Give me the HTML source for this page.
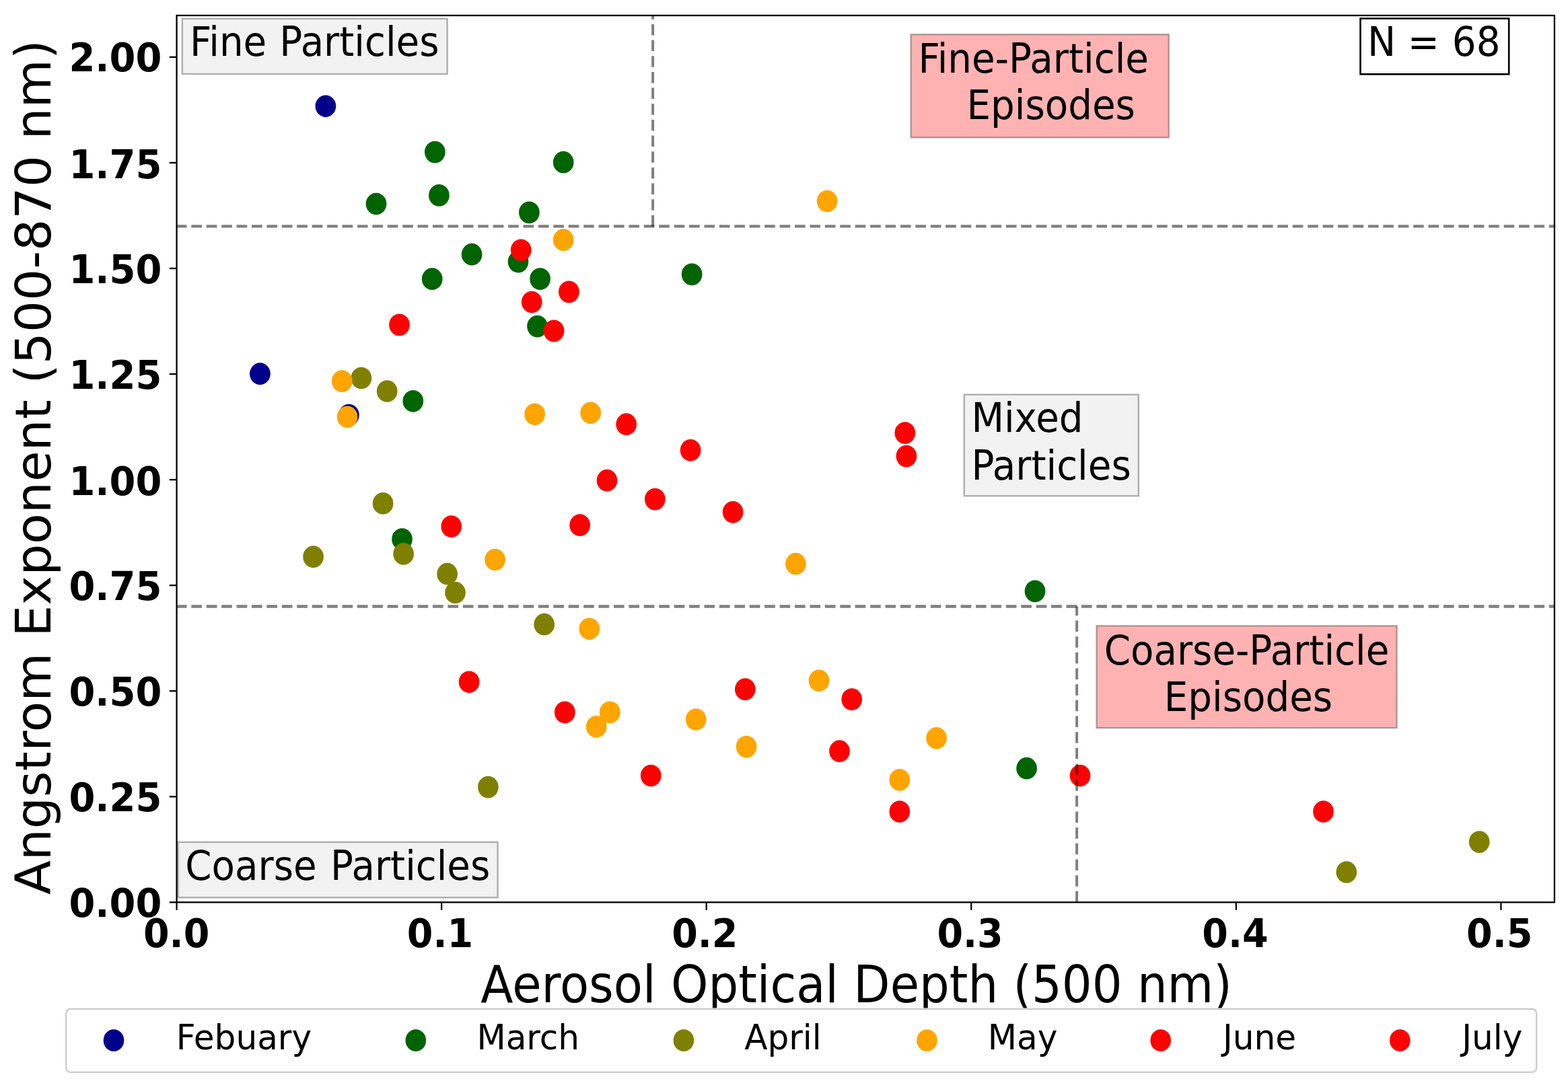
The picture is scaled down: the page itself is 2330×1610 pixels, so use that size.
<!DOCTYPE html>
<html lang="en">
<head>
<meta charset="utf-8">
<title>Angstrom Exponent vs Aerosol Optical Depth</title>
<style>
html,body{margin:0;padding:0;background:#fff;}
body{width:2330px;height:1610px;overflow:hidden;}
svg{display:block;}
svg text{font-family:'DejaVu Sans','Liberation Sans',sans-serif;fill:#000;white-space:pre;}
</style>
</head>
<body>
<svg xmlns="http://www.w3.org/2000/svg" width="2330" height="1610" viewBox="0 0 2330 1610">
<rect x="0" y="0" width="2330" height="1610" fill="#fff"/>
<g id="dots">
<g fill="#00008b">
<ellipse cx="483.9" cy="157.8" rx="15.35" ry="16.35"/>
<ellipse cx="386.4" cy="555.7" rx="15.35" ry="16.35"/>
<ellipse cx="518.4" cy="617.1" rx="15.35" ry="16.35"/>
</g>
<g fill="#006400">
<ellipse cx="646.3" cy="226.1" rx="15.35" ry="16.35"/>
<ellipse cx="837.2" cy="241.2" rx="15.35" ry="16.35"/>
<ellipse cx="559.0" cy="303.0" rx="15.35" ry="16.35"/>
<ellipse cx="652.4" cy="290.4" rx="15.35" ry="16.35"/>
<ellipse cx="786.4" cy="315.9" rx="15.35" ry="16.35"/>
<ellipse cx="701.1" cy="378.2" rx="15.35" ry="16.35"/>
<ellipse cx="770.0" cy="389.1" rx="15.35" ry="16.35"/>
<ellipse cx="642.2" cy="414.7" rx="15.35" ry="16.35"/>
<ellipse cx="802.6" cy="414.6" rx="15.35" ry="16.35"/>
<ellipse cx="798.5" cy="485.1" rx="15.35" ry="16.35"/>
<ellipse cx="1028.1" cy="407.9" rx="15.35" ry="16.35"/>
<ellipse cx="613.8" cy="596.3" rx="15.35" ry="16.35"/>
<ellipse cx="597.5" cy="801.5" rx="15.35" ry="16.35"/>
<ellipse cx="1538.0" cy="878.9" rx="15.35" ry="16.35"/>
<ellipse cx="1525.6" cy="1142.2" rx="15.35" ry="16.35"/>
</g>
<g fill="#808000">
<ellipse cx="536.9" cy="562.0" rx="15.35" ry="16.35"/>
<ellipse cx="575.2" cy="581.5" rx="15.35" ry="16.35"/>
<ellipse cx="569.1" cy="748.4" rx="15.35" ry="16.35"/>
<ellipse cx="465.6" cy="827.7" rx="15.35" ry="16.35"/>
<ellipse cx="599.6" cy="823.4" rx="15.35" ry="16.35"/>
<ellipse cx="664.6" cy="853.2" rx="15.35" ry="16.35"/>
<ellipse cx="676.5" cy="881.0" rx="15.35" ry="16.35"/>
<ellipse cx="808.7" cy="928.2" rx="15.35" ry="16.35"/>
<ellipse cx="725.4" cy="1170.1" rx="15.35" ry="16.35"/>
<ellipse cx="2000.8" cy="1296.5" rx="15.35" ry="16.35"/>
<ellipse cx="2198.2" cy="1251.6" rx="15.35" ry="16.35"/>
</g>
<g fill="#ffa500">
<ellipse cx="1229.1" cy="299.0" rx="15.35" ry="16.35"/>
<ellipse cx="837.2" cy="356.7" rx="15.35" ry="16.35"/>
<ellipse cx="508.2" cy="566.6" rx="15.35" ry="16.35"/>
<ellipse cx="516.1" cy="619.8" rx="15.35" ry="16.35"/>
<ellipse cx="794.6" cy="615.8" rx="15.35" ry="16.35"/>
<ellipse cx="877.7" cy="613.8" rx="15.35" ry="16.35"/>
<ellipse cx="735.6" cy="832.0" rx="15.35" ry="16.35"/>
<ellipse cx="1182.4" cy="838.2" rx="15.35" ry="16.35"/>
<ellipse cx="875.8" cy="934.8" rx="15.35" ry="16.35"/>
<ellipse cx="906.3" cy="1058.9" rx="15.35" ry="16.35"/>
<ellipse cx="886.2" cy="1080.3" rx="15.35" ry="16.35"/>
<ellipse cx="1034.2" cy="1069.5" rx="15.35" ry="16.35"/>
<ellipse cx="1109.1" cy="1110.1" rx="15.35" ry="16.35"/>
<ellipse cx="1217.0" cy="1011.8" rx="15.35" ry="16.35"/>
<ellipse cx="1391.6" cy="1097.3" rx="15.35" ry="16.35"/>
<ellipse cx="1336.8" cy="1159.4" rx="15.35" ry="16.35"/>
</g>
<g fill="#ff0000">
<ellipse cx="774.2" cy="371.8" rx="15.35" ry="16.35"/>
<ellipse cx="845.4" cy="433.9" rx="15.35" ry="16.35"/>
<ellipse cx="790.2" cy="449.0" rx="15.35" ry="16.35"/>
<ellipse cx="823.0" cy="491.9" rx="15.35" ry="16.35"/>
<ellipse cx="593.5" cy="482.9" rx="15.35" ry="16.35"/>
<ellipse cx="930.7" cy="630.7" rx="15.35" ry="16.35"/>
<ellipse cx="1026.1" cy="669.3" rx="15.35" ry="16.35"/>
<ellipse cx="902.0" cy="714.2" rx="15.35" ry="16.35"/>
<ellipse cx="973.3" cy="742.1" rx="15.35" ry="16.35"/>
<ellipse cx="1089.1" cy="761.3" rx="15.35" ry="16.35"/>
<ellipse cx="861.7" cy="780.7" rx="15.35" ry="16.35"/>
<ellipse cx="670.7" cy="782.6" rx="15.35" ry="16.35"/>
<ellipse cx="1344.8" cy="643.6" rx="15.35" ry="16.35"/>
<ellipse cx="1346.9" cy="678.1" rx="15.35" ry="16.35"/>
<ellipse cx="697.1" cy="1013.8" rx="15.35" ry="16.35"/>
<ellipse cx="839.3" cy="1058.9" rx="15.35" ry="16.35"/>
<ellipse cx="1107.3" cy="1024.6" rx="15.35" ry="16.35"/>
<ellipse cx="1265.7" cy="1039.6" rx="15.35" ry="16.35"/>
<ellipse cx="1247.5" cy="1116.7" rx="15.35" ry="16.35"/>
<ellipse cx="967.2" cy="1153.0" rx="15.35" ry="16.35"/>
<ellipse cx="1336.8" cy="1206.5" rx="15.35" ry="16.35"/>
<ellipse cx="1605.0" cy="1153.0" rx="15.35" ry="16.35"/>
<ellipse cx="1966.5" cy="1206.5" rx="15.35" ry="16.35"/>
</g>
</g>
<defs><clipPath id="axclip"><rect x="261.95" y="23.00" width="2047.95" height="1318.35"/></clipPath></defs>
<g stroke="#000" stroke-opacity="0.5" fill="none" clip-path="url(#axclip)">
<line x1="261.90" y1="336.44" x2="2309.90" y2="336.44" stroke-width="4.3" stroke-dasharray="15.65 6.767"/>
<line x1="261.90" y1="901.50" x2="2309.90" y2="901.50" stroke-width="4.3" stroke-dasharray="15.65 6.767"/>
<line x1="970.10" y1="336.44" x2="970.10" y2="23.00" stroke-width="3.95" stroke-dasharray="16.5 7.17"/>
<line x1="1600.10" y1="1341.35" x2="1600.10" y2="901.50" stroke-width="3.95" stroke-dasharray="16.5 7.17"/>
</g>
<rect x="262.55" y="23.0" width="2047.35" height="1318.35" fill="none" stroke="#000" stroke-width="2.3"/>
<g stroke="#000">
<line x1="262.55" y1="1341.35" x2="262.55" y2="1352.95" stroke-width="2.25"/>
<line x1="656.12" y1="1341.35" x2="656.12" y2="1352.95" stroke-width="2.25"/>
<line x1="1049.69" y1="1341.35" x2="1049.69" y2="1352.95" stroke-width="2.25"/>
<line x1="1443.26" y1="1341.35" x2="1443.26" y2="1352.95" stroke-width="2.25"/>
<line x1="1836.83" y1="1341.35" x2="1836.83" y2="1352.95" stroke-width="2.25"/>
<line x1="2230.40" y1="1341.35" x2="2230.40" y2="1352.95" stroke-width="2.25"/>
<line x1="251.75" y1="1341.35" x2="262.55" y2="1341.35" stroke-width="2.35"/>
<line x1="251.75" y1="1184.29" x2="262.55" y2="1184.29" stroke-width="2.35"/>
<line x1="251.75" y1="1027.24" x2="262.55" y2="1027.24" stroke-width="2.35"/>
<line x1="251.75" y1="870.18" x2="262.55" y2="870.18" stroke-width="2.35"/>
<line x1="251.75" y1="713.12" x2="262.55" y2="713.12" stroke-width="2.35"/>
<line x1="251.75" y1="556.07" x2="262.55" y2="556.07" stroke-width="2.35"/>
<line x1="251.75" y1="399.01" x2="262.55" y2="399.01" stroke-width="2.35"/>
<line x1="251.75" y1="241.96" x2="262.55" y2="241.96" stroke-width="2.35"/>
<line x1="251.75" y1="84.90" x2="262.55" y2="84.90" stroke-width="2.35"/>
</g>
<g id="ticklabels">
<text transform="translate(212.99 1408.00) scale(0.9455 1)" font-size="58.70" font-weight="bold">0.0</text>
<text transform="translate(604.86 1408.00) scale(0.9455 1)" font-size="58.70" font-weight="bold">0.1</text>
<text transform="translate(998.13 1408.00) scale(0.9455 1)" font-size="58.70" font-weight="bold">0.2</text>
<text transform="translate(1392.40 1408.00) scale(0.9455 1)" font-size="58.70" font-weight="bold">0.3</text>
<text transform="translate(1786.37 1408.00) scale(0.9455 1)" font-size="58.70" font-weight="bold">0.4</text>
<text transform="translate(2179.04 1408.00) scale(0.9455 1)" font-size="58.70" font-weight="bold">0.5</text>
<text transform="translate(102.38 1362.65) scale(0.9395 1)" font-size="59.50" font-weight="bold">0.00</text>
<text transform="translate(102.38 1205.59) scale(0.9395 1)" font-size="59.50" font-weight="bold">0.25</text>
<text transform="translate(102.38 1048.54) scale(0.9395 1)" font-size="59.50" font-weight="bold">0.50</text>
<text transform="translate(102.38 892.08) scale(0.9395 1)" font-size="59.50" font-weight="bold">0.75</text>
<text transform="translate(102.38 735.92) scale(0.9395 1)" font-size="59.50" font-weight="bold">1.00</text>
<text transform="translate(102.38 577.87) scale(0.9395 1)" font-size="59.50" font-weight="bold">1.25</text>
<text transform="translate(102.38 420.81) scale(0.9395 1)" font-size="59.50" font-weight="bold">1.50</text>
<text transform="translate(102.38 264.56) scale(0.9395 1)" font-size="59.50" font-weight="bold">1.75</text>
<text transform="translate(102.38 106.20) scale(0.9395 1)" font-size="59.50" font-weight="bold">2.00</text>
</g>
<rect x="270.80" y="27.80" width="393.80" height="82.20" fill="#d3d3d3" fill-opacity="0.3" stroke="#000" stroke-opacity="0.3" stroke-width="2.4"/>
<text transform="translate(0 83.30) scale(0.9260 1)" font-size="60.80" font-weight="normal"><tspan x="304.55">Fine </tspan><tspan x="448.40">Particles</tspan></text>
<rect x="264.60" y="1251.90" width="475.00" height="82.40" fill="#d3d3d3" fill-opacity="0.3" stroke="#000" stroke-opacity="0.3" stroke-width="2.4"/>
<text transform="translate(0 1307.90) scale(0.9260 1)" font-size="60.80" font-weight="normal"><tspan x="297.31">Coarse </tspan><tspan x="530.26">Particles</tspan></text>
<rect x="1353.50" y="51.20" width="383.30" height="153.20" fill="#ff0000" fill-opacity="0.3" stroke="#000" stroke-opacity="0.3" stroke-width="2.4"/>
<text transform="translate(0 108.30) scale(0.9260 1)" font-size="60.80" font-weight="normal"><tspan x="1473.47">Fine-Particle</tspan></text>
<text transform="translate(0 177.10) scale(0.9260 1)" font-size="60.80" font-weight="normal"><tspan x="1551.33">Episodes</tspan></text>
<rect x="1432.70" y="586.60" width="259.10" height="150.70" fill="#d3d3d3" fill-opacity="0.3" stroke="#000" stroke-opacity="0.3" stroke-width="2.4"/>
<text transform="translate(0 641.70) scale(0.9260 1)" font-size="60.80" font-weight="normal"><tspan x="1558.78">Mixed</tspan></text>
<text transform="translate(0 712.70) scale(0.9260 1)" font-size="60.80" font-weight="normal"><tspan x="1558.78">Particles</tspan></text>
<rect x="1629.50" y="930.40" width="446.10" height="151.70" fill="#ff0000" fill-opacity="0.3" stroke="#000" stroke-opacity="0.3" stroke-width="2.4"/>
<text transform="translate(0 988.20) scale(0.9260 1)" font-size="60.80" font-weight="normal"><tspan x="1771.84">Coarse-Particle</tspan></text>
<text transform="translate(0 1056.70) scale(0.9260 1)" font-size="60.80" font-weight="normal"><tspan x="1867.96">Episodes</tspan></text>
<rect x="2021.50" y="27.50" width="220.70" height="82.80" fill="#fff" stroke="#000" stroke-width="2.6" />
<text transform="translate(0 82.70) scale(0.9260 1)" font-size="60.80" font-weight="normal"><tspan x="2194.32">N </tspan><tspan x="2258.87">= </tspan><tspan x="2330.33">68</tspan></text>
<text transform="translate(714.17 1490.10) scale(0.9276 1)" font-size="76.00" font-weight="normal">Aerosol Optical Depth (500 nm)</text>
<text transform="translate(74.9 1330.06) rotate(-90) scale(1.0236 1)" font-size="72.60">Angstrom Exponent (500-870 nm)</text>
<rect x="0" y="1498.6" width="2330" height="111.4" fill="#fff"/>
<rect x="98.2" y="1500.0" width="2185.0" height="93.9" rx="6.5" ry="6.5" fill="#fff" stroke="#ccc" stroke-width="2.4"/>
<ellipse cx="169.0" cy="1546.7" rx="15.3" ry="16.4" fill="#00008b"/>
<text transform="translate(261.72 1559.70) scale(0.9766 1)" font-size="51.30" font-weight="normal">Febuary</text>
<ellipse cx="617.8" cy="1546.7" rx="15.3" ry="16.4" fill="#006400"/>
<text transform="translate(708.42 1559.70) scale(0.9766 1)" font-size="51.30" font-weight="normal">March</text>
<ellipse cx="1015.9" cy="1546.7" rx="15.3" ry="16.4" fill="#808000"/>
<text transform="translate(1106.22 1559.70) scale(0.9766 1)" font-size="51.30" font-weight="normal">April</text>
<ellipse cx="1377.5" cy="1546.7" rx="15.3" ry="16.4" fill="#ffa500"/>
<text transform="translate(1467.82 1559.70) scale(0.9766 1)" font-size="51.30" font-weight="normal">May</text>
<ellipse cx="1724.7" cy="1546.7" rx="15.3" ry="16.4" fill="#ff0000"/>
<text transform="translate(1817.03 1559.70) scale(0.9766 1)" font-size="51.30" font-weight="normal">June</text>
<ellipse cx="2080.3" cy="1546.7" rx="15.3" ry="16.4" fill="#ff0000"/>
<text transform="translate(2172.22 1559.70) scale(0.9766 1)" font-size="51.30" font-weight="normal">July</text>
</svg>
</body>
</html>
